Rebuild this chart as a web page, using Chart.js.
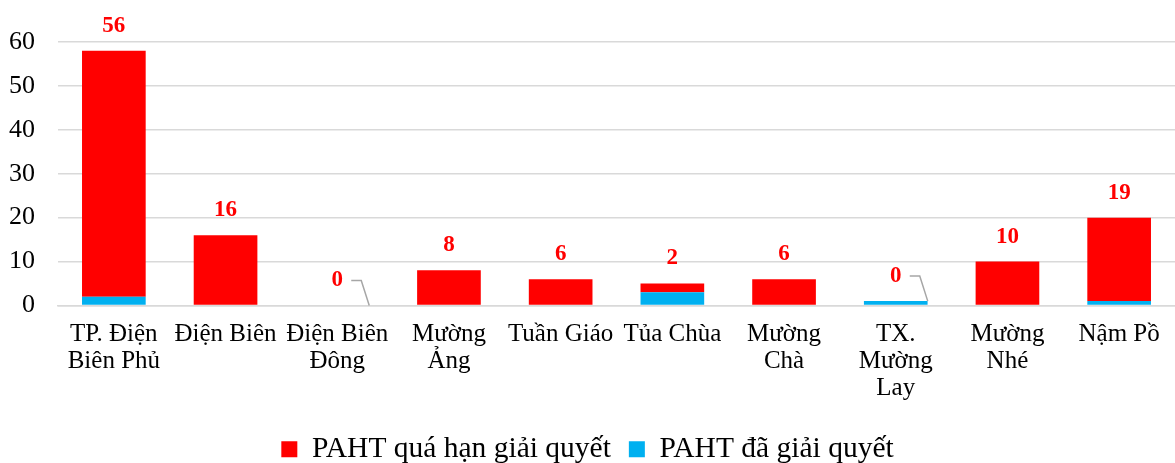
<!DOCTYPE html>
<html>
<head>
<meta charset="utf-8">
<script src="https://cdn.jsdelivr.net/npm/chart.js@4.4.1/dist/chart.umd.min.js"></script>
<style>
  html, body { margin: 0; padding: 0; background: #fff; }
  #wrap { width: 1175px; height: 463px; }
</style>
</head>
<body>
<div id="wrap"><canvas id="paht"></canvas></div>
<script>
const districts = [
  ['TP. Điện', 'Biên Phủ'], 'Điện Biên', ['Điện Biên', 'Đông'], ['Mường', 'Ảng'],
  'Tuần Giáo', 'Tủa Chùa', ['Mường', 'Chà'], ['TX.', 'Mường', 'Lay'], ['Mường', 'Nhé'], 'Nậm Pồ'
];
const overdue = [56, 16, 0, 8, 6, 2, 6, 0, 10, 19];
const resolved = [2, 0, 0, 0, 0, 3, 0, 1, 0, 1];
const yTicks = [0, 10, 20, 30, 40, 50, 60];

const serif = "'Liberation Serif', 'Times New Roman', serif";

// labels above each stack, zero values get a small leader line
const stackLabels = {
  id: 'stackLabels',
  afterDatasetsDraw(chart) {
    const ctx = chart.ctx;
    const y = chart.scales.y;
    const meta = chart.getDatasetMeta(1);
    ctx.save();
    ctx.font = 'bold 23px ' + serif;
    ctx.fillStyle = '#FF0000';
    ctx.textAlign = 'center';
    ctx.textBaseline = 'middle';
    overdue.forEach((v, i) => {
      const bar = meta.data[i];
      const top = y.getPixelForValue(v + resolved[i]);
      const ly = top - 25;
      ctx.fillText(String(v), bar.x, ly);
      if (v === 0) {
        ctx.strokeStyle = '#a6a6a6';
        ctx.lineWidth = 1.5;
        ctx.beginPath();
        ctx.moveTo(bar.x + 14, ly);
        ctx.lineTo(bar.x + 24, ly);
        ctx.lineTo(bar.x + 32, top);
        ctx.stroke();
      }
    });
    ctx.restore();
  }
};

new Chart(document.getElementById('paht'), {
  type: 'bar',
  data: {
    labels: districts,
    datasets: [
      { label: 'PAHT đã giải quyết', data: resolved, backgroundColor: '#00B0F0' },
      { label: 'PAHT quá hạn giải quyết', data: overdue, backgroundColor: '#FF0000' }
    ]
  },
  options: {
    responsive: true,
    maintainAspectRatio: false,
    animation: false,
    categoryPercentage: 1,
    barPercentage: 0.57,
    layout: { padding: { top: 42, right: 0, left: 0, bottom: -11 } },
    plugins: {
      tooltip: { enabled: false },
      legend: {
        position: 'bottom',
        reverse: true,
        labels: {
          color: '#000',
          font: { family: serif, size: 29.5 },
          boxWidth: 16,
          boxHeight: 16,
          padding: 18
        }
      }
    },
    scales: {
      x: {
        stacked: true,
        grid: { display: false, drawTicks: false },
        border: { color: '#d9d9d9', width: 1.5 },
        ticks: {
          color: '#000',
          font: { family: serif, size: 25, lineHeight: 1.08 },
          padding: 15,
          maxRotation: 0,
          autoSkip: false
        }
      },
      y: {
        stacked: true,
        min: 0,
        max: 60,
        afterBuildTicks(axis) { axis.ticks = yTicks.map(v => ({ value: v })); },
        afterFit(axis) { axis.width = 58; },
        grid: { color: '#d9d9d9', lineWidth: 1.5, drawTicks: false },
        border: { display: false },
        ticks: {
          color: '#000',
          font: { family: serif, size: 26 },
          padding: 23
        }
      }
    }
  },
  plugins: [stackLabels]
});
</script>
</body>
</html>
